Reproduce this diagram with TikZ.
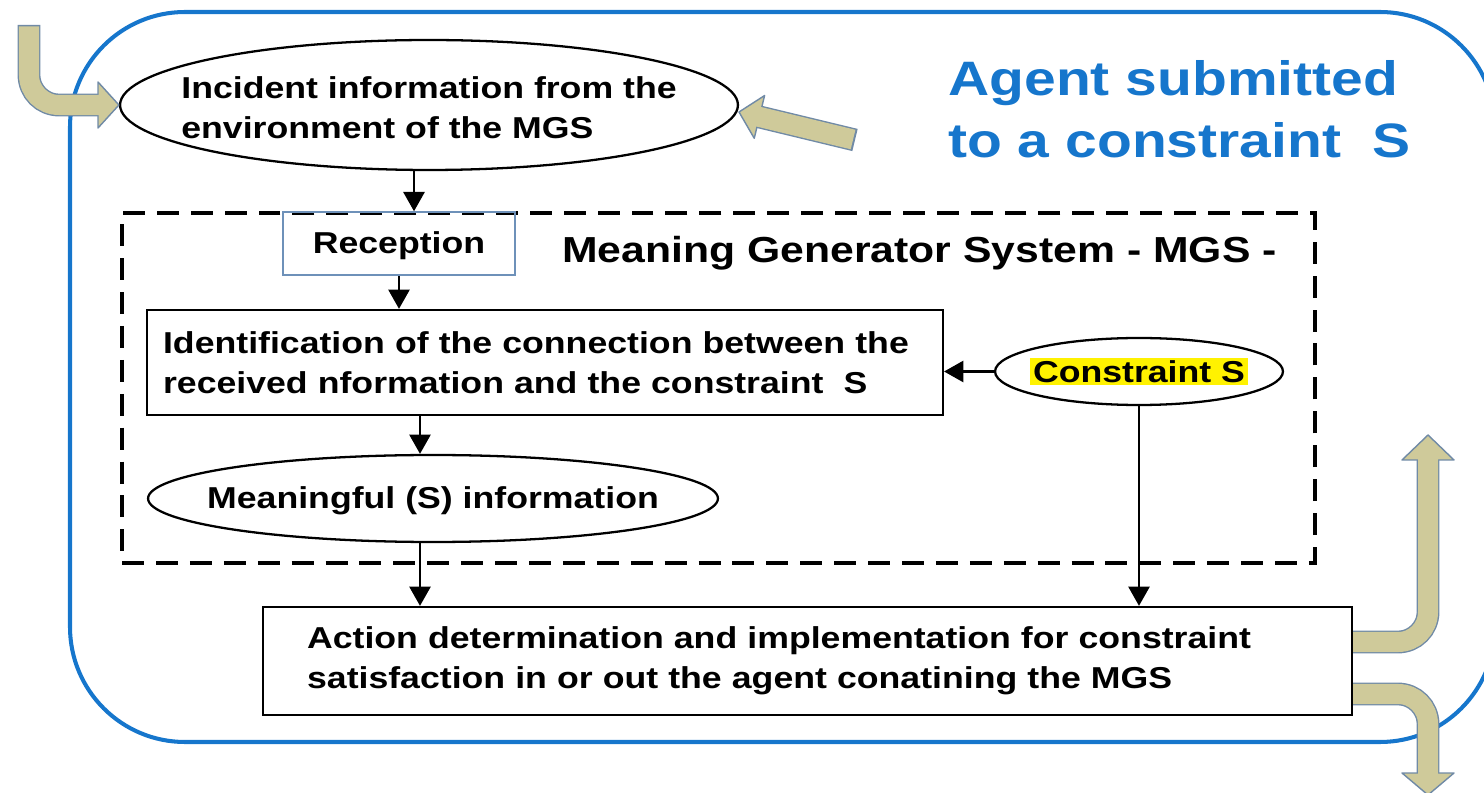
\documentclass[tikz,border=0pt]{standalone}
\usepackage{fontspec}
\setmainfont{Liberation Sans}[FakeStretch=1.18]
\usetikzlibrary{arrows.meta,calc,shapes.geometric}
\definecolor{agentblue}{RGB}{22,118,204}
\definecolor{khaki}{RGB}{207,202,154}
\definecolor{khakiedge}{RGB}{112,138,166}
\definecolor{recepedge}{RGB}{110,145,185}
\tikzset{
	every node/.style={font=\bfseries\fontsize{17.2}{23}\selectfont},
	ellipsebox/.style={draw,ellipse,line width=1.3pt,inner sep=0pt},
	plainbox/.style={draw,rectangle,line width=1.3pt,inner sep=0pt},
	mgsbox/.style={draw,line width=2pt,dash pattern=on 12.5pt off 6.8pt,inner sep=0pt},
	flow/.style={line width=1.5pt,-{Triangle[length=11pt,width=12pt]}},
	bigout/.style={draw=khakiedge,line width=13pt,rounded corners=0.6cm},
	bigin/.style={draw=khaki,line width=11.4pt,rounded corners=0.6cm},
	bighead/.style={fill=khaki,draw=khakiedge,line width=0.8pt,line join=round},
}
\begin{document}
\begin{tikzpicture}[x=0.02cm,y=-0.02cm]
	\useasboundingbox (0,0) rectangle (1484,793);
	\clip (0,0) rectangle (1484,793);
	\draw[agentblue,line width=2.3pt,rounded corners=2.3cm] (70,12) rectangle (1495,742);

	\node (incident) at (429,105) [ellipsebox,minimum width=12.36cm,minimum height=2.6cm,
		label={[align=left,yshift=-0.05cm]center:{Incident information from the\\environment of the MGS}}] {};
	\node (mgs) at (718.5,388) [mgsbox,minimum width=23.86cm,minimum height=7cm] {};
	\node (reception) at (399,243.5) [draw=recepedge,line width=0.9pt,inner sep=0pt,
		minimum width=4.64cm,minimum height=1.26cm,text depth=0.05cm] {Reception};
	\node (mgstitle) at (562,253) [anchor=west,inner sep=0pt,
		font=\bfseries\fontsize{20.6}{24}\selectfont] {Meaning Generator System - MGS -};
	\node (ident) at (545,362.5) [plainbox,minimum width=15.92cm,minimum height=2.1cm,
		text width=15.28cm,align=left] {Identification of the connection between the\\received nformation and the constraint\ \ S};
	\node (constraint) at (1139,371.5) [ellipsebox,minimum width=5.76cm,minimum height=1.34cm,
		label={center:{\setlength{\fboxsep}{1.5pt}\colorbox{yellow}{Constraint S}}}] {};
	\node (meaningful) at (433,498.5) [ellipsebox,minimum width=11.4cm,minimum height=1.74cm,
		label={[yshift=-0.05cm]center:Meaningful (S) information}] {};
	\node (action) at (807.5,661) [plainbox,minimum width=21.78cm,minimum height=2.16cm,
		text width=20.02cm,align=left] {Action determination and implementation for constraint\\satisfaction in or out the agent conatining the MGS};
	\node (agent) at (948,109) [anchor=west,inner sep=0pt,align=left,text=agentblue,
		font=\bfseries\fontsize{27.5}{35}\selectfont] {Agent submitted\\to a constraint\ \ S};

	\coordinate (inbot) at ([xshift=-0.3cm]incident.south);
	\coordinate (meantop) at ([xshift=-0.26cm]meaningful.north);
	\coordinate (meanbot) at ([xshift=-0.26cm]meaningful.south);
	\draw[flow] (inbot) -- (inbot |- mgs.north);
	\draw[flow] (reception.south) -- (reception.south |- ident.north);
	\draw[flow] (meantop |- ident.south) -- (meantop);
	\draw[flow] (meanbot) -- (meanbot |- action.north);
	\draw[flow] (constraint.west) -- (constraint.west -| ident.east);
	\draw[flow] (constraint.south) -- (constraint.south |- action.north);

	\draw[bigout] (29,25) |- (98,105);
	\draw[bighead] (98,82) -- (incident.west) -- (98,128) -- cycle;
	\draw[bigin] (29,26.5) |- (99.5,105);

	\coordinate (tailB) at (855,140);
	\coordinate (tipB) at (739,112);
	\coordinate (baseB) at ($(tipB)!0.42cm!(tailB)$);
	\draw[bigout] (tailB) -- (baseB);
	\draw[bighead] ($(baseB)!0.44cm!90:(tipB)$) -- (tipB) -- ($(baseB)!0.44cm!-90:(tipB)$) -- cycle;
	\draw[bigin] ($(tailB)!0.04cm!(tipB)$) -- ($(baseB)!-0.04cm!(tailB)$);

	\draw[bigout] ([yshift=0.38cm]action.east) -| (1428,460);
	\draw[bighead] (1402,460) -- (1428,435) -- (1454,460) -- cycle;
	\draw[bigin] ([yshift=0.38cm]action.east) -| (1428,458.5);

	\draw[bigout] ([yshift=-0.66cm]action.east) -| (1428,773);
	\draw[bighead] (1402,773) -- (1428,795) -- (1454,773) -- cycle;
	\draw[bigin] ([yshift=-0.66cm]action.east) -| (1428,774.5);
\end{tikzpicture}
\end{document}
